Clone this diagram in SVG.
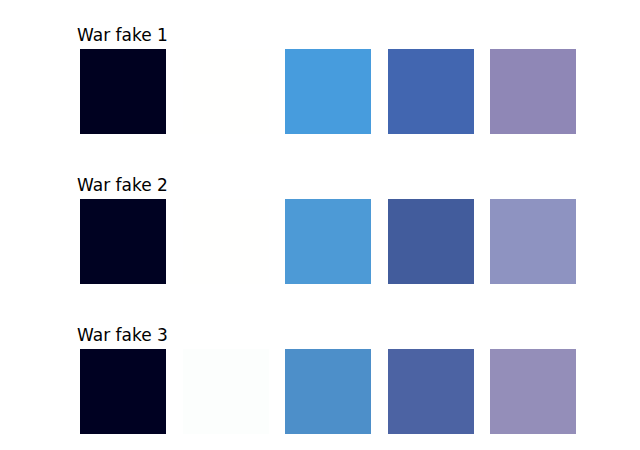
<svg xmlns="http://www.w3.org/2000/svg" width="640" height="450" viewBox="0 0 640 450">
<style>
.t{font-family:"DejaVu Sans",sans-serif;font-size:17px;fill:#000}
</style>
<rect width="640" height="450" fill="#fff"/>
<g id="row1">
<text class="t" x="77" y="41">War fake 1</text>
<rect x="80" y="49" width="86" height="85" fill="#000120"/>
<rect x="183" y="49" width="86" height="85" fill="#fffffe"/>
<rect x="285" y="49" width="86" height="85" fill="#479cdd"/>
<rect x="388" y="49" width="86" height="85" fill="#4266b0"/>
<rect x="490" y="49" width="86" height="85" fill="#8f87b6"/>
</g>
<g id="row2">
<text class="t" x="77" y="191">War fake 2</text>
<rect x="80" y="199" width="86" height="85" fill="#000222"/>
<rect x="183" y="199" width="86" height="85" fill="#fffffe"/>
<rect x="285" y="199" width="86" height="85" fill="#4d9ad6"/>
<rect x="388" y="199" width="86" height="85" fill="#425c9c"/>
<rect x="490" y="199" width="86" height="85" fill="#8e93c1"/>
</g>
<g id="row3">
<text class="t" x="77" y="341">War fake 3</text>
<rect x="80" y="349" width="86" height="85" fill="#000122"/>
<rect x="183" y="349" width="86" height="85" fill="#fcfefd"/>
<rect x="285" y="349" width="86" height="85" fill="#4d8fc9"/>
<rect x="388" y="349" width="86" height="85" fill="#4c63a3"/>
<rect x="490" y="349" width="86" height="85" fill="#948eb9"/>
</g>
<g id="connectors"/>
</svg>
